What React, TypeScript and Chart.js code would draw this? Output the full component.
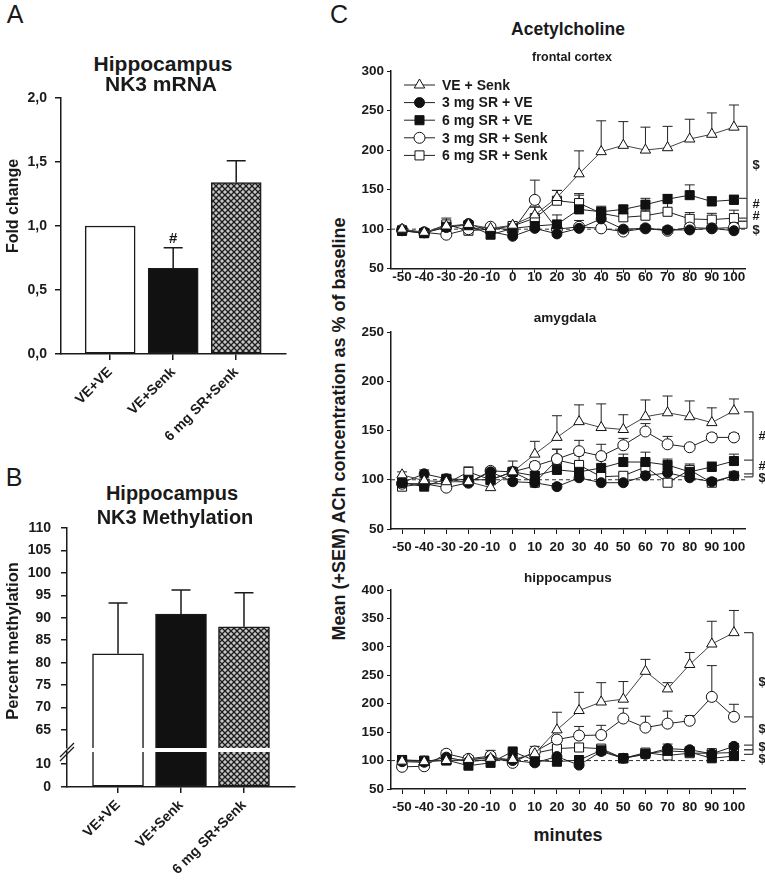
import React, { useEffect, useRef } from 'react';
import { Chart, registerables } from 'chart.js';

Chart.register(...registerables);

const FONT = "'Liberation Sans', Arial, Helvetica, sans-serif";
const INK = '#1a1a1a';

// ---------- Panel A : Hippocampus NK3 mRNA ----------
const groupLabels = ['VE+VE', 'VE+Senk', '6 mg SR+Senk'];
const mrnaFold = [1.0, 0.67, 1.34];
const mrnaSem = [0, 0.16, 0.17];
const mrnaSig = ['', '#', ''];
const mrnaTicks = [0, 0.5, 1.0, 1.5, 2.0];

// ---------- Panel B : Hippocampus NK3 Methylation ----------
const methPercent = [82, 90.8, 88];
const methSem = [11.3, 5.4, 7.6];
const methTicksUpper = [65, 70, 75, 80, 85, 90, 95, 100, 105, 110];
const methTicksLower = [0, 10];

// ---------- Panel C : Acetylcholine ----------
const minutes = [-50, -40, -30, -20, -10, 0, 10, 20, 30, 40, 50, 60, 70, 80, 90, 100];
const minuteAxisMin = -55;
const minuteAxisMax = 105;
const baselinePercent = 100;
const seriesNames = ['VE + Senk', '3 mg SR + VE', '6 mg SR + VE', '3 mg SR + Senk', '6 mg SR + Senk'];

// frontal cortex
const fcVeSenk = [100, 96, 104, 106, 101, 105, 118, 140, 170, 198, 206, 200, 203, 214, 220, 229];
const fcVeSenkSem = [4, 3, 4, 3, 3, 4, 10, 9, 29, 39, 30, 29, 27, 25, 27, 28];
const fc3SrVe = [98, 96, 102, 107, 97, 91, 101, 94, 101, 113, 100, 101, 99, 99, 101, 98];
const fc3SrVeSem = [3, 3, 3, 3, 3, 3, 4, 3, 3, 6, 3, 3, 3, 3, 3, 3];
const fc6SrVe = [98, 95, 103, 105, 93, 101, 104, 106, 125, 122, 125, 131, 138, 143, 135, 137];
const fc6SrVeSem = [3, 3, 4, 3, 3, 3, 5, 12, 18, 7, 5, 8, 6, 13, 6, 6];
const fc3SrSenk = [99, 96, 93, 100, 103, 98, 137, 100, 103, 101, 97, 101, 98, 102, 101, 102];
const fc3SrSenkSem = [3, 3, 3, 3, 3, 3, 25, 5, 8, 4, 4, 4, 5, 4, 4, 5];
const fc6SrSenk = [98, 95, 106, 98, 100, 104, 114, 136, 133, 120, 115, 117, 122, 113, 112, 114];
const fc6SrSenkSem = [3, 3, 8, 3, 3, 3, 14, 13, 12, 7, 10, 7, 13, 8, 8, 10];
const fcTicks = [50, 100, 150, 200, 250, 300];

// amygdala
const amVeSenk = [105, 99, 98, 98, 92, 108, 126, 143, 159, 153, 151, 164, 168, 164, 158, 170];
const amVeSenkSem = [3, 3, 3, 3, 3, 4, 13, 22, 17, 24, 15, 17, 17, 16, 15, 12];
const am3SrVe = [97, 106, 101, 97, 108, 98, 97, 93, 102, 97, 97, 104, 107, 102, 98, 104];
const am3SrVeSem = [3, 4, 3, 3, 3, 3, 3, 3, 3, 3, 3, 3, 3, 3, 3, 3];
const am6SrVe = [97, 93, 101, 100, 100, 108, 104, 110, 108, 112, 118, 118, 115, 108, 113, 119];
const am6SrVeSem = [3, 4, 3, 3, 3, 4, 4, 6, 6, 8, 8, 10, 6, 5, 5, 7];
const am3SrSenk = [96, 96, 92, 97, 109, 108, 114, 121, 129, 124, 135, 149, 136, 133, 143, 143];
const am3SrSenkSem = [3, 3, 3, 3, 3, 3, 4, 10, 11, 12, 7, 8, 8, 3, 4, 4];
const am6SrSenk = [93, 96, 96, 108, 100, 108, 97, 120, 115, 103, 104, 113, 97, 110, 97, 104];
const am6SrSenkSem = [3, 3, 3, 5, 5, 11, 3, 11, 10, 3, 3, 7, 4, 6, 3, 3];
const amTicks = [50, 100, 150, 200, 250];

// hippocampus
const hcVeSenk = [99, 98, 100, 102, 104, 102, 112, 154, 188, 203, 208, 257, 226, 269, 305, 325];
const hcVeSenkSem = [3, 3, 3, 3, 3, 3, 8, 31, 32, 34, 31, 21, 11, 21, 40, 39];
const hc3SrVe = [98, 97, 106, 98, 102, 100, 96, 107, 92, 116, 104, 111, 121, 119, 112, 125];
const hc3SrVeSem = [3, 3, 4, 3, 3, 3, 3, 4, 3, 3, 3, 3, 8, 5, 5, 5];
const hc6SrVe = [101, 99, 101, 91, 96, 116, 100, 98, 101, 118, 104, 112, 117, 115, 104, 108];
const hc6SrVeSem = [3, 3, 3, 3, 3, 3, 3, 3, 3, 3, 3, 3, 6, 6, 6, 4];
const hc3SrSenk = [89, 90, 112, 103, 108, 96, 116, 137, 144, 145, 174, 158, 165, 170, 212, 177];
const hc3SrSenkSem = [3, 3, 6, 3, 10, 3, 9, 5, 16, 17, 18, 20, 22, 9, 55, 22];
const hc6SrSenk = [101, 100, 100, 101, 106, 100, 113, 121, 123, 121, 104, 114, 109, 113, 113, 114];
const hc6SrSenkSem = [3, 3, 3, 4, 5, 3, 6, 4, 3, 3, 3, 3, 4, 5, 5, 5];
const hcTicks = [50, 100, 150, 200, 250, 300, 350, 400];

// significance brackets (values on the y scale)
const fcBracketLevels = [230, 139, 114, 110, 101];
const fcBracketMarks = [{ v: 180, t: '$' }, { v: 131, t: '#' }, { v: 116, t: '#' }, { v: 98, t: '$' }];
const amBracketLevels = [169, 120, 106, 103];
const amBracketMarks = [{ v: 144, t: '#' }, { v: 114, t: '#' }, { v: 101, t: '$' }];
const hcBracketLevels = [325, 177, 127, 119, 111];
const hcBracketMarks = [{ v: 237, t: '$' }, { v: 154, t: '$' }, { v: 124, t: '$' }, { v: 102, t: '$' }];

// marker styles per series
const seriesStyles = [
  { shape: 'triangle', fill: '#ffffff', radius: 6 },
  { shape: 'circle', fill: '#111111', radius: 5 },
  { shape: 'rect', fill: '#111111', radius: 6.4 },
  { shape: 'circle', fill: '#ffffff', radius: 5.5 },
  { shape: 'rect', fill: '#ffffff', radius: 6.4 },
];

function makeHatch(): any {
  const c = document.createElement('canvas');
  c.width = 6;
  c.height = 6;
  const g = c.getContext('2d')!;
  g.fillStyle = '#c6c6c6';
  g.fillRect(0, 0, 6, 6);
  g.strokeStyle = '#1c1c1c';
  g.lineWidth = 1.3;
  g.beginPath();
  g.moveTo(0, 0);
  g.lineTo(6, 6);
  g.moveTo(6, 0);
  g.lineTo(0, 6);
  g.stroke();
  return g.createPattern(c, 'repeat');
}

const barErrorPlugin = {
  id: 'barErrors',
  afterDatasetsDraw(chart: any) {
    const ds = chart.data.datasets[0];
    if (!ds.errors) return;
    const meta = chart.getDatasetMeta(0);
    const y = chart.scales.y;
    const ctx = chart.ctx;
    ctx.save();
    ctx.strokeStyle = INK;
    ctx.fillStyle = INK;
    ctx.lineWidth = 1.5;
    meta.data.forEach((bar: any, i: number) => {
      const sem = ds.errors[i];
      if (!sem) return;
      const base = y.getPixelForValue(ds.data[i].y);
      const top = y.getPixelForValue(ds.data[i].y + sem);
      ctx.beginPath();
      ctx.moveTo(bar.x, base);
      ctx.lineTo(bar.x, top);
      ctx.moveTo(bar.x - 9.5, top);
      ctx.lineTo(bar.x + 9.5, top);
      ctx.stroke();
      const s = ds.sig && ds.sig[i];
      if (s) {
        ctx.font = `bold 15px ${FONT}`;
        ctx.textAlign = 'center';
        ctx.textBaseline = 'middle';
        ctx.fillText(s, bar.x, top - 9);
      }
    });
    ctx.restore();
  },
};

const axisBreakPlugin = {
  id: 'axisBreak',
  afterDraw(chart: any) {
    const { ctx, chartArea } = chart;
    const { left, top } = chartArea;
    ctx.save();
    ctx.strokeStyle = INK;
    ctx.lineWidth = 1.2;
    for (const d of [0, 4]) {
      ctx.beginPath();
      ctx.moveTo(left - 7, top + 5 + d);
      ctx.lineTo(left + 7, top - 9 + d);
      ctx.stroke();
    }
    ctx.restore();
  },
};

function barConfig(o: any) {
  return {
    type: 'bar',
    data: {
      datasets: [
        {
          data: o.values.map((v: number, i: number) => ({ x: i, y: v })),
          backgroundColor: o.fills,
          borderColor: INK,
          borderWidth: 1.5,
          borderSkipped: false,
          barThickness: o.barThickness,
          errors: o.sems,
          sig: o.sig,
        },
      ],
    },
    options: {
      animation: false,
      responsive: false,
      events: [],
      layout: { padding: o.padding },
      plugins: { legend: { display: false }, tooltip: { enabled: false } },
      scales: {
        x: {
          type: 'linear',
          offset: false,
          min: o.xMin,
          max: o.xMax,
          display: o.showX,
          afterBuildTicks: (s: any) => {
            s.ticks = groupLabels.map((_, i) => ({ value: i }));
          },
          afterFit: (s: any) => {
            s.height = o.xHeight;
          },
          grid: { display: true, offset: false, drawOnChartArea: false, drawTicks: true, tickLength: 6, color: INK, lineWidth: 1.5 },
          border: { display: true, color: INK, width: 1.5 },
          ticks: {
            autoSkip: false,
            minRotation: 45,
            maxRotation: 45,
            padding: 4,
            color: INK,
            font: { family: FONT, size: 14, weight: 'bold' },
            callback: (v: number) => groupLabels[v] ?? '',
          },
        },
        y: {
          type: 'linear',
          min: o.yMin,
          max: o.yMax,
          afterBuildTicks: (s: any) => {
            s.ticks = o.yTicks.map((v: number) => ({ value: v }));
          },
          afterFit: (s: any) => {
            s.width = o.yWidth;
          },
          grid: { display: true, drawOnChartArea: false, drawTicks: true, tickLength: 6, color: INK, lineWidth: 1.5 },
          border: { display: true, color: INK, width: 1.5 },
          ticks: {
            padding: o.yTickPad,
            color: INK,
            font: { family: FONT, size: 14, weight: 'bold' },
            callback: o.fmt,
          },
        },
      },
    },
    plugins: o.plugins,
  };
}

function drawMarker(ctx: any, shape: string, x: number, y: number, r: number) {
  ctx.beginPath();
  if (shape === 'circle') {
    ctx.arc(x, y, r, 0, Math.PI * 2);
  } else if (shape === 'rect') {
    const s = r * Math.SQRT1_2;
    ctx.rect(x - s, y - s, 2 * s, 2 * s);
  } else {
    let a = 0;
    ctx.moveTo(x + Math.sin(a) * r, y - Math.cos(a) * r);
    a += (2 * Math.PI) / 3;
    ctx.lineTo(x + Math.sin(a) * r, y - Math.cos(a) * r);
    a += (2 * Math.PI) / 3;
    ctx.lineTo(x + Math.sin(a) * r, y - Math.cos(a) * r);
    ctx.closePath();
  }
  ctx.fill();
  ctx.stroke();
}

const lineErrorPlugin = {
  id: 'lineErrors',
  beforeDatasetsDraw(chart: any) {
    const ctx = chart.ctx;
    const y = chart.scales.y;
    chart.data.datasets.forEach((ds: any, i: number) => {
      if (!ds.errors) return;
      const meta = chart.getDatasetMeta(i);
      ctx.save();
      ctx.strokeStyle = '#222';
      ctx.lineWidth = 1;
      meta.data.forEach((pt: any, j: number) => {
        const top = y.getPixelForValue(ds.data[j].y + ds.errors[j]);
        ctx.beginPath();
        ctx.moveTo(pt.x, pt.y);
        ctx.lineTo(pt.x, top);
        ctx.moveTo(pt.x - 5, top);
        ctx.lineTo(pt.x + 5, top);
        ctx.stroke();
      });
      ctx.restore();
    });
  },
};

const legendPlugin = {
  id: 'achLegend',
  afterDatasetsDraw(chart: any) {
    const { ctx, chartArea } = chart;
    ctx.save();
    seriesNames.forEach((name, i) => {
      const st = seriesStyles[i];
      const y = chartArea.top + 14 + i * 17.6;
      const x0 = chartArea.left + 13;
      ctx.strokeStyle = '#222';
      ctx.lineWidth = 1;
      ctx.beginPath();
      ctx.moveTo(x0, y);
      ctx.lineTo(x0 + 31, y);
      ctx.stroke();
      ctx.fillStyle = st.fill;
      ctx.strokeStyle = '#111';
      drawMarker(ctx, st.shape, x0 + 15.5, y, st.radius);
      ctx.fillStyle = INK;
      ctx.font = `bold 14px ${FONT}`;
      ctx.textAlign = 'left';
      ctx.textBaseline = 'middle';
      ctx.fillText(name, x0 + 38, y + 1);
    });
    ctx.restore();
  },
};

function bracketPlugin(levels: number[], marks: { v: number; t: string }[], dx: number) {
  return {
    id: 'brackets',
    afterDraw(chart: any) {
      const { ctx, chartArea } = chart;
      const y = chart.scales.y;
      const bx = chartArea.right + dx;
      ctx.save();
      ctx.strokeStyle = '#444';
      ctx.lineWidth = 1.3;
      ctx.beginPath();
      ctx.moveTo(bx, y.getPixelForValue(levels[0]));
      ctx.lineTo(bx, y.getPixelForValue(levels[levels.length - 1]));
      levels.forEach((lv) => {
        const py = y.getPixelForValue(lv);
        ctx.moveTo(bx - 9, py);
        ctx.lineTo(bx, py);
      });
      ctx.stroke();
      ctx.fillStyle = INK;
      ctx.font = `bold 13px ${FONT}`;
      ctx.textAlign = 'center';
      ctx.textBaseline = 'middle';
      marks.forEach((m) => ctx.fillText(m.t, bx + 9, y.getPixelForValue(m.v)));
      ctx.restore();
    },
  };
}

function achConfig(p: any) {
  const datasets: any[] = p.series.map((vals: number[], i: number) => ({
    label: seriesNames[i],
    data: minutes.map((m, j) => ({ x: m, y: vals[j] })),
    errors: p.sems[i],
    borderColor: i === 0 ? '#444' : '#222',
    borderWidth: 1,
    pointStyle: seriesStyles[i].shape,
    pointRadius: seriesStyles[i].radius,
    pointBackgroundColor: seriesStyles[i].fill,
    pointBorderColor: '#111',
    pointBorderWidth: 1,
    tension: 0,
    fill: false,
  }));
  datasets.push({
    label: 'baseline',
    data: [
      { x: minuteAxisMin, y: baselinePercent },
      { x: minuteAxisMax, y: baselinePercent },
    ],
    borderColor: '#333',
    borderWidth: 1,
    borderDash: [4, 3],
    pointRadius: 0,
    fill: false,
  });
  const tickFont = { family: FONT, size: 13.5, weight: 'bold' };
  return {
    type: 'line',
    data: { datasets },
    options: {
      animation: false,
      responsive: false,
      events: [],
      layout: { padding: { left: 0, right: 20, top: p.padTop, bottom: 0 } },
      plugins: { legend: { display: false }, tooltip: { enabled: false } },
      scales: {
        x: {
          type: 'linear',
          offset: false,
          min: minuteAxisMin,
          max: minuteAxisMax,
          afterBuildTicks: (s: any) => {
            s.ticks = minutes.map((v) => ({ value: v }));
          },
          afterFit: (s: any) => {
            s.height = p.xHeight;
          },
          grid: { display: true, drawOnChartArea: false, drawTicks: true, tickLength: p.tickLen, color: INK, lineWidth: 1 },
          border: { display: true, color: INK, width: 1.5 },
          ticks: {
            autoSkip: false,
            minRotation: 0,
            maxRotation: 0,
            padding: p.tickPad,
            color: INK,
            font: tickFont,
            callback: (v: number) => String(v),
          },
        },
        y: {
          type: 'linear',
          min: p.yTicks[0],
          max: p.yTicks[p.yTicks.length - 1],
          afterBuildTicks: (s: any) => {
            s.ticks = p.yTicks.map((v: number) => ({ value: v }));
          },
          afterFit: (s: any) => {
            s.width = 41;
          },
          grid: { display: true, drawOnChartArea: false, drawTicks: true, tickLength: 4, color: INK, lineWidth: 1 },
          border: { display: true, color: INK, width: 1.5 },
          ticks: { padding: 3, color: INK, font: tickFont, callback: (v: number) => String(v) },
        },
      },
    },
    plugins: [lineErrorPlugin, bracketPlugin(p.levels, p.marks, p.dx), ...(p.legend ? [legendPlugin] : [])],
  };
}

function Label(props: any) {
  const { x, y, size, bold = true, rotate = false, children } = props;
  return (
    <div
      style={{
        position: 'absolute',
        left: x,
        top: y,
        transform: `translate(-50%, -50%)${rotate ? ' rotate(-90deg)' : ''}`,
        fontSize: size,
        fontWeight: bold ? 700 : 400,
        lineHeight: 1,
        whiteSpace: 'nowrap',
        fontFamily: FONT,
        color: INK,
      }}
    >
      {children}
    </div>
  );
}

export default function App() {
  const refA = useRef<HTMLCanvasElement>(null);
  const refB1 = useRef<HTMLCanvasElement>(null);
  const refB2 = useRef<HTMLCanvasElement>(null);
  const refC1 = useRef<HTMLCanvasElement>(null);
  const refC2 = useRef<HTMLCanvasElement>(null);
  const refC3 = useRef<HTMLCanvasElement>(null);

  useEffect(() => {
    const hatch = makeHatch();
    const fills = ['#ffffff', '#111111', hatch];
    const charts: Chart[] = [];
    const comma = (v: number) => v.toFixed(1).replace('.', ',');
    const plain = (v: number) => String(v);

    charts.push(
      new Chart(
        refA.current!,
        barConfig({
          values: mrnaFold,
          sems: mrnaSem,
          sig: mrnaSig,
          fills,
          barThickness: 50,
          padding: { left: 0, right: 14, top: 20, bottom: 0 },
          xMin: -0.78,
          xMax: 2.79,
          showX: true,
          xHeight: 91,
          yMin: mrnaTicks[0],
          yMax: mrnaTicks[mrnaTicks.length - 1],
          yTicks: mrnaTicks,
          yWidth: 61,
          yTickPad: 8,
          fmt: comma,
          plugins: [barErrorPlugin],
        }) as any
      )
    );

    charts.push(
      new Chart(
        refB1.current!,
        barConfig({
          values: methPercent,
          sems: methSem,
          fills,
          barThickness: 51,
          padding: { left: 0, right: 5, top: 20, bottom: 20 },
          xMin: -0.81,
          xMax: 2.81,
          showX: false,
          xHeight: 0,
          yMin: 61,
          yMax: methTicksUpper[methTicksUpper.length - 1],
          yTicks: methTicksUpper,
          yWidth: 67,
          yTickPad: 10,
          fmt: plain,
          plugins: [barErrorPlugin],
        }) as any
      )
    );

    charts.push(
      new Chart(
        refB2.current!,
        barConfig({
          values: methPercent,
          fills,
          barThickness: 51,
          padding: { left: 0, right: 5, top: 20, bottom: 0 },
          xMin: -0.81,
          xMax: 2.81,
          showX: true,
          xHeight: 95,
          yMin: methTicksLower[0],
          yMax: 15.2,
          yTicks: methTicksLower,
          yWidth: 67,
          yTickPad: 10,
          fmt: plain,
          plugins: [barErrorPlugin, axisBreakPlugin],
        }) as any
      )
    );

    charts.push(
      new Chart(
        refC1.current!,
        achConfig({
          series: [fcVeSenk, fc3SrVe, fc6SrVe, fc3SrSenk, fc6SrSenk],
          sems: [fcVeSenkSem, fc3SrVeSem, fc6SrVeSem, fc3SrSenkSem, fc6SrSenkSem],
          yTicks: fcTicks,
          padTop: 13,
          xHeight: 25.3,
          tickLen: 4,
          tickPad: -4,
          levels: fcBracketLevels,
          marks: fcBracketMarks,
          dx: 2,
          legend: true,
        }) as any
      )
    );

    charts.push(
      new Chart(
        refC2.current!,
        achConfig({
          series: [amVeSenk, am3SrVe, am6SrVe, am3SrSenk, am6SrSenk],
          sems: [amVeSenkSem, am3SrVeSem, am6SrVeSem, am3SrSenkSem, am6SrSenkSem],
          yTicks: amTicks,
          padTop: 12,
          xHeight: 31,
          tickLen: 5,
          tickPad: 5,
          levels: amBracketLevels,
          marks: amBracketMarks,
          dx: 8,
          legend: false,
        }) as any
      )
    );

    charts.push(
      new Chart(
        refC3.current!,
        achConfig({
          series: [hcVeSenk, hc3SrVe, hc6SrVe, hc3SrSenk, hc6SrSenk],
          sems: [hcVeSenkSem, hc3SrVeSem, hc6SrVeSem, hc3SrSenkSem, hc6SrSenkSem],
          yTicks: hcTicks,
          padTop: 12,
          xHeight: 33,
          tickLen: 5,
          tickPad: 5,
          levels: hcBracketLevels,
          marks: hcBracketMarks,
          dx: 8,
          legend: false,
        }) as any
      )
    );

    return () => charts.forEach((c) => c.destroy());
  }, []);

  const abs = (left: number, top: number) => ({ position: 'absolute' as const, left, top, display: 'block' });

  return (
    <div
      style={{
        position: 'absolute',
        left: 0,
        top: 0,
        width: 765,
        height: 882,
        background: '#ffffff',
        overflow: 'hidden',
        fontFamily: FONT,
      }}
    >
      <canvas ref={refA} width={300} height={367} style={abs(0, 78)} />
      <canvas ref={refB1} width={300} height={260} style={abs(0, 508)} />
      <canvas ref={refB2} width={300} height={150} style={abs(0, 732)} />
      <canvas ref={refC1} width={415} height={236} style={abs(350, 58)} />
      <canvas ref={refC2} width={415} height={240} style={abs(350, 320)} />
      <canvas ref={refC3} width={415} height={244} style={abs(350, 578)} />

      <Label x={15} y={14} size={25} bold={false}>A</Label>
      <Label x={14} y={477} size={25} bold={false}>B</Label>
      <Label x={339} y={14} size={25} bold={false}>C</Label>

      <Label x={163} y={63} size={21}>Hippocampus</Label>
      <Label x={161} y={83} size={21}>NK3 mRNA</Label>
      <Label x={13} y={206} size={16} rotate>Fold change</Label>

      <Label x={172} y={493} size={20}>Hippocampus</Label>
      <Label x={175} y={517} size={20}>NK3 Methylation</Label>
      <Label x={12} y={641} size={16.5} rotate>Percent methylation</Label>

      <Label x={568} y={30} size={17.5}>Acetylcholine</Label>
      <Label x={572} y={57} size={12.5}>frontal cortex</Label>
      <Label x={565} y={318} size={13.5}>amygdala</Label>
      <Label x={568} y={578} size={13.5}>hippocampus</Label>
      <Label x={568} y={835} size={18}>minutes</Label>
      <Label x={339} y={429} size={18} rotate>Mean (+SEM) ACh concentration as % of baseline</Label>
    </div>
  );
}
